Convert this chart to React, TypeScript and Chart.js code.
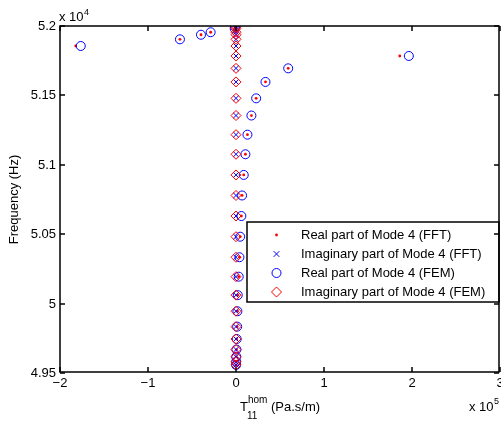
import React, { useEffect, useRef } from "react";
import { Chart, registerables } from "chart.js";

Chart.register(...registerables);

// Frequency of each sample (Hz)
const frequencyHz = [
  51995, 51982, 51955, 51937, 51904, 51856, 51784, 51695, 51597, 51479, 51355,
  51217, 51076, 50927, 50779, 50631, 50482, 50334, 50194, 50061, 49945, 49834,
  49745, 49669, 49617, 49581, 49558,
];
// T11 hom values (Pa.s/m)
const realFFT = [
  -1000, -1500, -28800, -39800, -63700, -182100, 186100, 59300, 33500, 22900,
  17500, 13000, 10700, 8800, 6900, 6100, 4700, 3900, 3100, 2000, 1600, 1300,
  800, 500, 300, 200, 100,
];
const imagFFT = [
  0, 0, 0, 0, 0, 0, 0, 0, 0, 0, 0, 0, 0, 0, 0, 0, 0, 0, 0, 0, 0, 0, 0, 0, 0, 0, 0,
];
const realFEM = [
  -1000, -1500, -28800, -39800, -63700, -176400, 196400, 59300, 33500, 22900,
  17500, 13000, 10700, 8800, 6900, 6100, 4700, 3900, 3100, 2000, 1600, 1300,
  800, 500, 300, 200, 100,
];
const imagFEM = [
  0, 0, 0, 0, 0, 0, 0, 0, 0, 0, 0, 0, 0, 0, 0, 0, 0, 0, 0, 0, 0, 0, 0, 0, 0, 0, 0,
];
const seriesLabels = [
  "Real part of Mode 4 (FFT)",
  "Imaginary part of Mode 4 (FFT)",
  "Real part of Mode 4 (FEM)",
  "Imaginary part of Mode 4 (FEM)",
];
const xTickValues = [-200000, -100000, 0, 100000, 200000, 300000];
const yTickValues = [49500, 50000, 50500, 51000, 51500, 52000];

const FONT = "'Liberation Sans', Arial, Helvetica, sans-serif";
const BLUE = "#0000ff";
const RED = "#ff0000";

function toPoints(xs: number[]) {
  return xs.map((v, i) => ({ x: v, y: frequencyHz[i] }));
}

function fmt(v: number) {
  const s = String(Number(v.toFixed(2)));
  return s.replace("-", "\u2212");
}

function drawMarker(
  ctx: CanvasRenderingContext2D,
  style: string,
  x: number,
  y: number,
  r: number,
  color: string,
  filled: boolean
) {
  ctx.save();
  ctx.strokeStyle = color;
  ctx.fillStyle = color;
  ctx.lineWidth = 1;
  ctx.beginPath();
  if (style === "circle") {
    ctx.arc(x, y, r, 0, Math.PI * 2);
  } else if (style === "crossRot") {
    const d = r * Math.SQRT1_2;
    ctx.moveTo(x - d, y - d);
    ctx.lineTo(x + d, y + d);
    ctx.moveTo(x + d, y - d);
    ctx.lineTo(x - d, y + d);
  } else if (style === "rectRot") {
    ctx.moveTo(x, y - r);
    ctx.lineTo(x + r, y);
    ctx.lineTo(x, y + r);
    ctx.lineTo(x - r, y);
    ctx.closePath();
  }
  if (filled) ctx.fill();
  else ctx.stroke();
  ctx.restore();
}

const framePlugin = {
  id: "matlabFrame",
  afterDraw(chart: any) {
    const ctx: CanvasRenderingContext2D = chart.ctx;
    const area = chart.chartArea;
    const xs = chart.scales.x;
    const ys = chart.scales.y;
    const L = Math.round(area.left);
    const R = Math.round(area.right) - 1;
    const T = Math.round(area.top);
    const B = Math.round(area.bottom) - 1;
    ctx.save();
    ctx.font = `13px ${FONT}`;
    ctx.fillStyle = "#000";
    ctx.textAlign = "center";
    ctx.textBaseline = "middle";
    xTickValues.forEach((v) => {
      const px = Math.round(xs.getPixelForValue(v));
      ctx.fillText(fmt(v / 1e5), px, B + 11);
    });
    ctx.textAlign = "right";
    yTickValues.forEach((v) => {
      const py = Math.round(ys.getPixelForValue(v));
      ctx.fillText(fmt(v / 1e4), L - 4, py + 0.5);
    });

    // Legend
    const boxL = R - 252;
    const boxR = R;
    const boxT = T + 196;
    const boxB = boxT + 80;
    ctx.fillStyle = "#fff";
    ctx.fillRect(boxL, boxT, boxR - boxL, boxB - boxT);
    ctx.strokeStyle = "#000";
    ctx.lineWidth = 1.5;
    ctx.strokeRect(boxL, boxT, boxR - boxL, boxB - boxT);
    ctx.font = `13px ${FONT}`;
    ctx.textBaseline = "middle";
    ctx.textAlign = "left";
    chart.data.datasets.forEach((ds: any, i: number) => {
      const cy = boxT + 13 + i * 19;
      const cx = boxL + 29.5;
      drawMarker(
        ctx,
        ds.pointStyle,
        cx,
        cy,
        ds.legendRadius,
        ds.pointBorderColor,
        ds.filled
      );
      ctx.fillStyle = "#000";
      ctx.fillText(ds.label, boxL + 54, cy);
    });

    // Y axis label
    ctx.save();
    ctx.translate(14, (area.top + area.bottom) / 2);
    ctx.rotate(-Math.PI / 2);
    ctx.textAlign = "center";
    ctx.textBaseline = "middle";
    ctx.font = `13px ${FONT}`;
    ctx.fillStyle = "#000";
    ctx.fillText("Frequency (Hz)", 0, 0);
    ctx.restore();

    // X axis label: T_11^hom (Pa.s/m)
    ctx.fillStyle = "#000";
    ctx.textBaseline = "alphabetic";
    ctx.textAlign = "left";
    ctx.font = `13px ${FONT}`;
    const wT = ctx.measureText("T").width;
    const wRest = ctx.measureText(" (Pa.s/m)").width;
    ctx.font = `10px ${FONT}`;
    const wSup = ctx.measureText("hom").width;
    const wSub = ctx.measureText("11").width;
    const wScript = Math.max(wSup, wSub);
    const total = wT + wScript + wRest;
    const startX = (area.left + area.right) / 2 - total / 2;
    const baseY = 411;
    ctx.font = `13px ${FONT}`;
    ctx.fillText("T", startX, baseY);
    ctx.font = `10px ${FONT}`;
    ctx.fillText("hom", startX + wT, baseY - 8);
    ctx.fillText("11", startX + wT - 1, baseY + 8);
    ctx.font = `13px ${FONT}`;
    ctx.fillText(" (Pa.s/m)", startX + wT + wScript, baseY);

    // Exponent labels
    ctx.font = `13px ${FONT}`;
    ctx.fillText("x 10", L - 1, 21);
    const w10 = ctx.measureText("x 10").width;
    ctx.font = `9px ${FONT}`;
    ctx.fillText("4", L - 1 + w10 + 0.5, 15);
    ctx.font = `13px ${FONT}`;
    ctx.fillText("x 10", 469, 411);
    const w10b = ctx.measureText("x 10").width;
    ctx.font = `9px ${FONT}`;
    ctx.fillText("5", 469 + w10b + 0.5, 404);

    // Axes box and inward ticks
    ctx.strokeStyle = "#000000";
    ctx.lineWidth = 1.5;
    ctx.beginPath();
    ctx.rect(L, T, R - L, B - T);
    ctx.stroke();
    const tl = 5;
    ctx.beginPath();
    xTickValues.forEach((v) => {
      const px = Math.round(xs.getPixelForValue(v));
      ctx.moveTo(px, B);
      ctx.lineTo(px, B - tl);
      ctx.moveTo(px, T);
      ctx.lineTo(px, T + tl);
    });
    yTickValues.forEach((v) => {
      const py = Math.round(ys.getPixelForValue(v));
      ctx.moveTo(L, py);
      ctx.lineTo(L + tl, py);
      ctx.moveTo(R, py);
      ctx.lineTo(R - tl, py);
    });
    ctx.stroke();
    ctx.restore();
  },
};

export default function App() {
  const canvasRef = useRef<HTMLCanvasElement | null>(null);

  useEffect(() => {
    const canvas = canvasRef.current;
    if (!canvas) return;
    const chart = new Chart(canvas, {
      type: "scatter",
      data: {
        datasets: [
          {
            label: seriesLabels[0],
            data: toPoints(realFFT),
            pointStyle: "circle",
            pointRadius: 1.4,
            pointBackgroundColor: RED,
            pointBorderColor: RED,
            pointBorderWidth: 0,
            showLine: false,
            order: 3,
            legendRadius: 1.4,
            filled: true,
          } as any,
          {
            label: seriesLabels[1],
            data: toPoints(imagFFT),
            pointStyle: "crossRot",
            pointRadius: 4,
            pointBackgroundColor: BLUE,
            pointBorderColor: BLUE,
            pointBorderWidth: 1,
            showLine: false,
            order: 2,
            legendRadius: 4,
            filled: false,
          } as any,
          {
            label: seriesLabels[2],
            data: toPoints(realFEM),
            pointStyle: "circle",
            pointRadius: 4.5,
            pointBackgroundColor: "rgba(0,0,0,0)",
            pointBorderColor: BLUE,
            pointBorderWidth: 1,
            showLine: false,
            order: 1,
            legendRadius: 4.5,
            filled: false,
          } as any,
          {
            label: seriesLabels[3],
            data: toPoints(imagFEM),
            pointStyle: "rectRot",
            pointRadius: 5,
            pointBackgroundColor: "rgba(0,0,0,0)",
            pointBorderColor: RED,
            pointBorderWidth: 1,
            showLine: false,
            order: 0,
            legendRadius: 5,
            filled: false,
          } as any,
        ],
      },
      options: {
        animation: false,
        responsive: false,
        events: [],
        layout: {
          autoPadding: false,
          padding: { top: 26, right: 1, left: 0, bottom: 0 },
        },
        plugins: {
          legend: { display: false },
          tooltip: { enabled: false },
          title: { display: false },
        },
        scales: {
          x: {
            type: "linear",
            min: -200000,
            max: 300000,
            grid: { display: false, drawTicks: false },
            border: { display: false },
            ticks: { display: false },
            afterFit: (scale: any) => {
              scale.height = 48;
              scale.paddingLeft = 0;
              scale.paddingRight = 0;
            },
          },
          y: {
            type: "linear",
            min: 49500,
            max: 52000,
            grid: { display: false, drawTicks: false },
            border: { display: false },
            ticks: { display: false },
            afterFit: (scale: any) => {
              scale.width = 60;
              scale.paddingTop = 0;
              scale.paddingBottom = 0;
            },
          },
        },
      } as any,
      plugins: [framePlugin],
    });
    return () => chart.destroy();
  }, []);

  return (
    <div
      style={{
        position: "absolute",
        left: 0,
        top: 0,
        width: 501,
        height: 421,
        background: "#fff",
      }}
    >
      <canvas ref={canvasRef} width={501} height={421} />
    </div>
  );
}
